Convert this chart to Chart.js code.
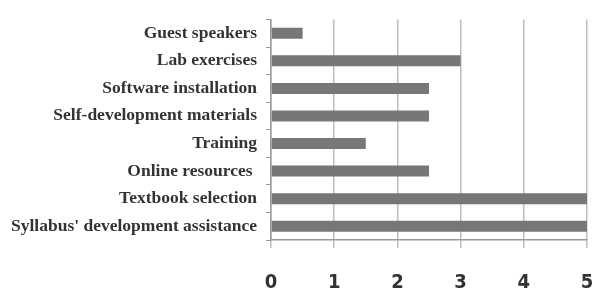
<!DOCTYPE html>
<html>
<head>
<meta charset="utf-8">
<script src="https://cdn.jsdelivr.net/npm/chart.js@4"></script>
<style>
  html, body { margin: 0; padding: 0; background: #fff; }
  #wrap { width: 595px; height: 291px; }
</style>
</head>
<body>
<div id="wrap"><canvas id="resourceChart" width="595" height="291"></canvas></div>
<script>
// Support items and their ratings
const categories = [
    'Guest speakers',
    'Lab exercises',
    'Software installation',
    'Self-development materials',
    'Training',
    'Online resources ',
    'Textbook selection',
    "Syllabus' development assistance"
];
const ratings = [0.5, 3, 2.5, 2.5, 1.5, 2.5, 5, 5];
const xTicks = [0, 1, 2, 3, 4, 5];

const ctx = document.getElementById('resourceChart').getContext('2d');

new Chart(ctx, {
    type: 'bar',
    data: {
        labels: categories,
        datasets: [{
            data: ratings,
            backgroundColor: '#777777',
            borderWidth: 0,
            categoryPercentage: 1,
            barPercentage: 0.4
        }]
    },
    options: {
        indexAxis: 'y',
        responsive: false,
        animation: false,
        layout: {
            padding: { top: 10, right: 8, left: 0, bottom: 0 }
        },
        plugins: {
            legend: { display: false },
            tooltip: { enabled: false }
        },
        scales: {
            x: {
                min: 0,
                max: 5,
                afterBuildTicks: function(scale) {
                    scale.ticks = xTicks.map(v => ({ value: v }));
                },
                afterFit: function(scale) {
                    scale.height = 51;
                    scale.paddingLeft = 0;
                    scale.paddingRight = 0;
                },
                grid: {
                    color: '#bdbdbd',
                    lineWidth: 1.5,
                    tickLength: 8
                },
                border: { color: '#999999', width: 1.5 },
                ticks: {
                    color: '#333333',
                    padding: 23,
                    font: { family: 'DejaVu Sans Condensed', size: 20, weight: 'bold' }
                }
            },
            y: {
                afterFit: function(scale) {
                    scale.width = 271;
                },
                grid: {
                    drawOnChartArea: false,
                    color: '#999999',
                    tickLength: 5
                },
                border: { color: '#999999', width: 1.5 },
                ticks: {
                    color: '#333333',
                    padding: 9,
                    font: { family: 'Liberation Serif', size: 17.5, weight: 'bold' }
                }
            }
        }
    }
});
</script>
</body>
</html>
